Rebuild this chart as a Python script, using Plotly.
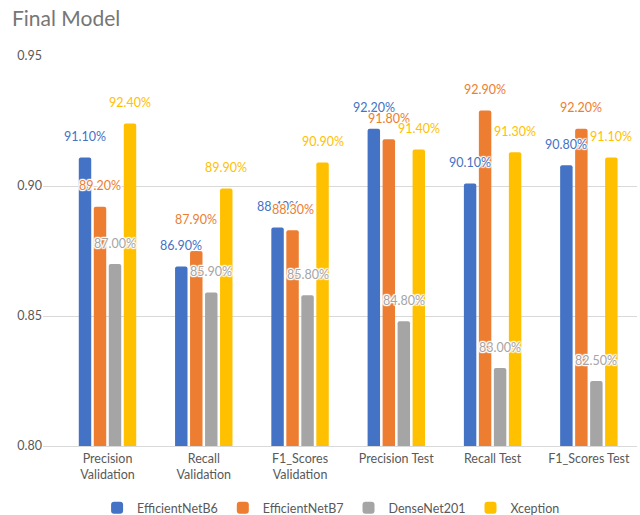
import plotly.graph_objects as go

categories = ["Precision<br>Validation", "Recall<br>Validation", "F1_Scores<br>Validation",
              "Precision Test", "Recall Test", "F1_Scores Test"]
series_names = ["EfficientNetB6", "EfficientNetB7", "DenseNet201", "Xception"]
colors = ["#4472C4", "#ED7D31", "#A5A5A5", "#FFC000"]

# bar heights (as drawn)
effb6 = [0.911, 0.869, 0.884, 0.922, 0.901, 0.908]
effb7 = [0.892, 0.875, 0.883, 0.918, 0.929, 0.922]
densenet = [0.870, 0.859, 0.858, 0.848, 0.830, 0.825]
xception = [0.924, 0.899, 0.909, 0.914, 0.913, 0.911]

# data label values (as printed)
label_b6 = [0.911, 0.869, 0.884, 0.922, 0.901, 0.908]
label_b7 = [0.892, 0.879, 0.883, 0.918, 0.929, 0.922]
label_dn = [0.870, 0.859, 0.858, 0.848, 0.830, 0.825]
label_xc = [0.924, 0.899, 0.909, 0.914, 0.913, 0.911]

values = [effb6, effb7, densenet, xception]
labels = [label_b6, label_b7, label_dn, label_xc]

FONT = "Lato"
bargap = 0.377
bargroupgap = 0.17

fig = go.Figure()
for name, col, vals in zip(series_names, colors, values):
    fig.add_trace(go.Bar(x=categories, y=vals, name=name, marker_color=col,
                         marker_line_width=0))

halo = ("white 1px 1px 1px, white -1px -1px 1px, white 1px -1px 1px, white -1px 1px 1px, "
        "white 0px 1px 1px, white 0px -1px 1px, white 1px 0px 1px, white -1px 0px 1px")
n = len(series_names)
slot = (1 - bargap) / n
annotations = []
for k, (col, labs) in enumerate(zip(colors, labels)):
    off = (k - (n - 1) / 2) * slot
    for i, v in enumerate(labs):
        annotations.append(dict(
            x=i + off, y=v, xref="x", yref="y", text=f"{v*100:.2f}%",
            showarrow=False, yanchor="middle", xanchor="center", yshift=21,
            font=dict(family=FONT, size=12.5, color=col, shadow=halo)))

fig.update_layout(
    width=640, height=515,
    margin=dict(l=43, r=3, t=56, b=69, autoexpand=False),
    paper_bgcolor="white", plot_bgcolor="white",
    barmode="group", bargap=bargap, bargroupgap=bargroupgap,
    barcornerradius=2,
    title=dict(text="Final Model", x=12/640, xanchor="left", xref="container",
               y=1 - 19/515, yanchor="middle", yref="container",
               font=dict(family=FONT, size=21, color="#767676")),
    font=dict(family=FONT, size=12, color="#595959"),
    xaxis=dict(type="category", range=[-0.67, 5.5], showgrid=False,
               showline=True, linecolor="#D9D9D9", linewidth=1,
               ticks="", ticklabelstandoff=1,
               tickfont=dict(size=12.5, color="#595959")),
    yaxis=dict(range=[0.80, 0.95], dtick=0.05, tickformat=".2f",
               showgrid=True, gridcolor="#D9D9D9", gridwidth=1,
               zeroline=False, showline=False, ticks="",
               tickfont=dict(size=12.5, color="#595959")),
    legend=dict(orientation="h", x=0.485, xanchor="center", xref="paper",
                y=-0.159, yanchor="middle", bgcolor="rgba(0,0,0,0)",
                font=dict(size=12.5, color="#595959")),
    annotations=annotations,
)

fig.write_html("out.html")
